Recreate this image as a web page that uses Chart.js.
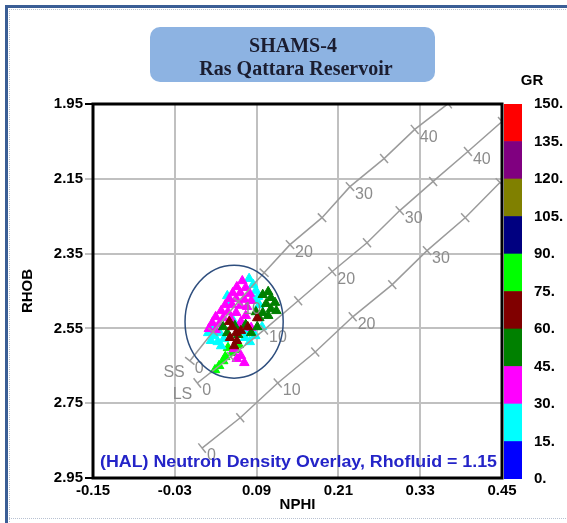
<!DOCTYPE html>
<html>
<head>
<meta charset="utf-8">
<title>SHAMS-4 Neutron Density Crossplot</title>
<script src="https://cdn.jsdelivr.net/npm/chart.js@4.4.1/dist/chart.umd.min.js"></script>
<style>
  html, body { margin: 0; padding: 0; background: #fff; }
  #wrap { position: relative; width: 567px; height: 523px; overflow: hidden; }
  #plot { position: absolute; left: 0; top: 0; }
  #grbar { position: absolute; left: 504px; top: 0; }
</style>
</head>
<body>
<div id="wrap">
  <canvas id="plot" width="567" height="523"></canvas>
  <canvas id="grbar" width="63" height="523"></canvas>
</div>
<script>
// ---- axis ticks ----
const xTickLabels = ["-0.15", "-0.03", "0.09", "0.21", "0.33", "0.45"];
const yTickLabels = ["1.95", "2.15", "2.35", "2.55", "2.75", "2.95"];

// ---- overlay lines (porosity ticks every 5 p.u.) ----
const porosity = [0, 5, 10, 15, 20, 25, 30, 35, 40, 45];
const ssNphi  = [-0.008, 0.026, 0.063, 0.101, 0.139, 0.186, 0.227, 0.277, 0.322, 0.371];
const ssRhob  = [2.637, 2.559, 2.479, 2.401, 2.326, 2.254, 2.171, 2.096, 2.018, 1.949];
const lsNphi  = [0.003, 0.052, 0.101, 0.151, 0.201, 0.252, 0.300, 0.349, 0.400, 0.450];
const lsRhob  = [2.696, 2.626, 2.554, 2.476, 2.398, 2.321, 2.235, 2.157, 2.077, 1.997];
const dolNphi = [0.010, 0.066, 0.121, 0.176, 0.231, 0.289, 0.340, 0.396, 0.447];
const dolRhob = [2.870, 2.789, 2.696, 2.613, 2.519, 2.433, 2.342, 2.254, 2.160];

// ---- log samples [NPHI, RHOB] by GR class ----
const gr15to30 = [[0.079,2.417],[0.085,2.433],[0.089,2.449],[0.092,2.465],[0.086,2.473],[0.094,2.487],
  [0.047,2.463],[0.051,2.481],[0.026,2.546],[0.019,2.562],[0.028,2.570],[0.036,2.562],[0.023,2.583],
  [0.033,2.586],[0.042,2.578],[0.038,2.597],[0.073,2.575],[0.080,2.586],[0.088,2.570],[0.076,2.559],
  [0.098,2.546],[0.055,2.527]];
const gr30to45 = [[0.069,2.423],[0.061,2.439],[0.074,2.441],[0.055,2.455],[0.066,2.455],[0.080,2.457],
  [0.050,2.471],[0.060,2.471],[0.072,2.473],[0.082,2.476],[0.044,2.487],[0.054,2.487],[0.066,2.489],
  [0.076,2.492],[0.038,2.503],[0.048,2.506],[0.060,2.508],[0.030,2.519],[0.041,2.522],[0.052,2.524],
  [0.025,2.535],[0.035,2.538],[0.067,2.532],[0.074,2.516],[0.020,2.551],[0.030,2.554],[0.064,2.551],
  [0.082,2.548],[0.057,2.605],[0.067,2.623],[0.072,2.642],[0.061,2.631]];
const gr45to60 = [[0.099,2.460],[0.107,2.452],[0.111,2.468],[0.117,2.481],[0.104,2.484],[0.111,2.498],
  [0.119,2.503],[0.099,2.508],[0.094,2.522],[0.089,2.506],[0.091,2.546],[0.041,2.546],[0.047,2.562],
  [0.063,2.567],[0.058,2.543],[0.082,2.562],[0.074,2.540],[0.107,2.516]];
const gr60to75 = [[0.054,2.546],[0.060,2.562],[0.051,2.575],[0.061,2.583],[0.057,2.597],[0.091,2.522],
  [0.077,2.546],[0.067,2.556],[0.050,2.532]];
const gr75to90 = [[0.048,2.602],[0.054,2.615],[0.060,2.607],[0.041,2.637],[0.035,2.650],[0.029,2.661],
  [0.044,2.626],[0.064,2.594]];

// ---- GR colour scale ----
const grBands = [[0,15],[15,30],[30,45],[45,60],[60,75],[75,90],[90,105],[105,120],[120,135],[135,150]];
const grColors = ["#0000ff", "#00ffff", "#ff00ff", "#008000", "#800000",
                  "#00ff00", "#000080", "#808000", "#800080", "#ff0000"];
const grTickLabels = ["0.", "15.", "30.", "45.", "60.", "75.", "90.", "105.", "120.", "135.", "150."];

// cluster outline (centre and half-axes in data units)
const clusterCenter = [0.057, 2.532];
const clusterRadius = [0.072, 0.151];

Chart.defaults.font.family = '"Liberation Sans", Arial, sans-serif';

const toPoints = (xs, ys) => xs.map((v, i) => ({ x: v, y: ys[i] }));
const overlays = [
  { name: "SS", pts: toPoints(ssNphi, ssRhob) },
  { name: "LS", pts: toPoints(lsNphi, lsRhob) },
  { name: "",   pts: toPoints(dolNphi, dolRhob) }
];

// pick the label whose number matches the tick value (works with reversed axes)
const labelFor = list => v => list.find(l => Math.abs(parseFloat(l) - v) < 1e-6) || "";

// porosity tick drawn perpendicular to the line, in pixel space
function tickAngle(ctx) {
  const chart = ctx.chart, pts = ctx.dataset.data, i = ctx.dataIndex;
  const sx = chart.scales.x, sy = chart.scales.y;
  const a = pts[Math.max(i - 1, 0)], b = pts[Math.min(i + 1, pts.length - 1)];
  const dx = sx.getPixelForValue(b.x) - sx.getPixelForValue(a.x);
  const dy = sy.getPixelForValue(b.y) - sy.getPixelForValue(a.y);
  return Math.atan2(dy, dx) * 180 / Math.PI + 90;
}

const lineSets = overlays.map(o => ({
  data: o.pts,
  showLine: true,
  borderColor: "#9b9b9b",
  borderWidth: 1.5,
  pointStyle: "line",
  pointRadius: 6,
  pointBorderColor: "#9b9b9b",
  pointBorderWidth: 1.5,
  pointRotation: tickAngle,
  order: 0
}));

const samples = [
  [gr60to75, grColors[4], 1],
  [gr45to60, grColors[3], 2],
  [gr30to45, grColors[2], 3],
  [gr15to30, grColors[1], 4],
  [gr75to90, grColors[5], 5]
].map(([pts, color, order]) => ({
  data: pts.map(p => ({ x: p[0], y: p[1] })),
  pointStyle: "triangle",
  pointRadius: 5.5,
  backgroundColor: color,
  borderColor: color,
  borderWidth: 1,
  order: order
}));

const framePlugin = {
  id: "frame",
  beforeDraw(chart) {
    const ctx = chart.ctx;
    ctx.save();
    ctx.fillStyle = "#ffffff";
    ctx.fillRect(0, 0, chart.width, chart.height);
    ctx.fillStyle = "#3b5e96";
    ctx.fillRect(5, 5, 3, chart.height - 5);
    ctx.fillRect(5, 5, chart.width - 5, 3);
    ctx.strokeStyle = "#b8c2d2";
    ctx.lineWidth = 1;
    ctx.setLineDash([1, 1]);
    ctx.beginPath();
    ctx.moveTo(9.5, 9); ctx.lineTo(9.5, chart.height);
    ctx.moveTo(9, 9.5); ctx.lineTo(chart.width, 9.5);
    ctx.moveTo(9, 518.5); ctx.lineTo(chart.width, 518.5);
    ctx.stroke();
    ctx.setLineDash([]);

    // title box
    ctx.fillStyle = "#8db3e2";
    ctx.beginPath();
    ctx.roundRect(150, 27, 285, 55, 10);
    ctx.fill();
    ctx.fillStyle = "#1b1d30";
    ctx.font = 'bold 20px "Liberation Serif", "Times New Roman", serif';
    ctx.textAlign = "center";
    ctx.textBaseline = "middle";
    ctx.fillText("SHAMS-4", 293, 47);
    ctx.fillText("Ras Qattara Reservoir", 296, 70);
    ctx.restore();
  },
  afterDatasetsDraw(chart) {
    const { ctx, chartArea: ca, scales: { x, y } } = chart;
    ctx.save();
    ctx.beginPath();
    ctx.rect(ca.left, ca.top, ca.right - ca.left, ca.bottom - ca.top);
    ctx.clip();

    // porosity labels
    ctx.fillStyle = "#8c8c8c";
    ctx.font = '16px "Liberation Sans", Arial, sans-serif';
    ctx.textBaseline = "middle";
    overlays.forEach(o => {
      o.pts.forEach((p, i) => {
        if (porosity[i] % 10 !== 0) return;
        const px = x.getPixelForValue(p.x), py = y.getPixelForValue(p.y);
        ctx.textAlign = "left";
        ctx.fillText(String(porosity[i]), px + 5, py + 8);
        if (i === 0 && o.name) {
          ctx.textAlign = "right";
          ctx.fillText(o.name, px - 5, py + 12);
        }
      });
    });

    // cluster outline
    const cx = x.getPixelForValue(clusterCenter[0]);
    const cy = y.getPixelForValue(clusterCenter[1]);
    const rx = Math.abs(x.getPixelForValue(clusterCenter[0] + clusterRadius[0]) - cx);
    const ry = Math.abs(y.getPixelForValue(clusterCenter[1] + clusterRadius[1]) - cy);
    ctx.strokeStyle = "#2e4e7e";
    ctx.lineWidth = 1.5;
    ctx.beginPath();
    ctx.ellipse(cx, cy, rx, ry, 0, 0, Math.PI * 2);
    ctx.stroke();
    ctx.restore();

    // plot caption, stretched to span the plot like the original
    const caption = "(HAL) Neutron Density Overlay, Rhofluid = 1.15";
    ctx.save();
    ctx.fillStyle = "#2424c8";
    ctx.font = 'bold 16px "Liberation Sans", Arial, sans-serif';
    ctx.textAlign = "left";
    ctx.textBaseline = "middle";
    const left = ca.left + 7;
    const sx = (ca.right - 5 - left) / ctx.measureText(caption).width;
    ctx.translate(left, ca.bottom - 15);
    ctx.scale(sx, 1);
    ctx.fillText(caption, 0, 0);
    ctx.restore();

    // plot border
    ctx.save();
    ctx.strokeStyle = "#000000";
    ctx.lineWidth = 3;
    ctx.strokeRect(ca.left, ca.top, ca.right - ca.left, ca.bottom - ca.top);
    ctx.restore();
  }
};

new Chart(document.getElementById("plot"), {
  type: "scatter",
  data: { datasets: [...lineSets, ...samples] },
  options: {
    responsive: false,
    animation: false,
    layout: { padding: { top: 104, right: 65, bottom: 0, left: 0 } },
    plugins: { legend: { display: false }, tooltip: { enabled: false } },
    scales: {
      x: {
        type: "linear",
        min: -0.15, max: 0.45,
        ticks: {
          stepSize: 0.12,
          padding: 4,
          color: "#000",
          font: { size: 15, weight: "bold" },
          callback: labelFor(xTickLabels)
        },
        grid: { color: "#c0c0c0", lineWidth: 2, drawTicks: false },
        border: { display: false },
        title: {
          display: true, text: "NPHI", color: "#000",
          font: { size: 15, weight: "bold" },
          padding: { top: 0, bottom: 9 }
        },
        afterFit: s => { s.height = 45; }
      },
      y: {
        type: "linear",
        reverse: true,
        min: 1.95, max: 2.95,
        ticks: {
          stepSize: 0.2,
          padding: 2,
          color: "#000",
          font: { size: 15, weight: "bold" },
          callback: labelFor(yTickLabels)
        },
        grid: {
          color: "#c0c0c0", lineWidth: 2, tickLength: 8,
          tickColor: c => (c.index === 0 || c.index === yTickLabels.length - 1) ? "#000" : "#c0c0c0"
        },
        border: { display: false },
        title: {
          display: true, text: "RHOB", color: "#000",
          font: { size: 15, weight: "bold" },
          padding: { top: 19, bottom: 0 }
        },
        afterFit: s => { s.width = 93; }
      }
    }
  },
  plugins: [framePlugin]
});

// ---- GR colour bar ----
const grLabelPlugin = {
  id: "grLabel",
  afterDraw(chart) {
    const ctx = chart.ctx;
    ctx.save();
    ctx.fillStyle = "#000";
    ctx.font = 'bold 15px "Liberation Sans", Arial, sans-serif';
    ctx.textAlign = "center";
    ctx.textBaseline = "middle";
    ctx.fillText("GR", 28, 81);
    ctx.restore();
  }
};

new Chart(document.getElementById("grbar"), {
  type: "bar",
  data: {
    labels: ["GR"],
    datasets: grBands.map((b, i) => ({
      data: [b],
      backgroundColor: grColors[i],
      borderWidth: 0,
      barPercentage: 1,
      categoryPercentage: 1,
      grouped: false
    }))
  },
  options: {
    responsive: false,
    animation: false,
    layout: { padding: { top: 104, bottom: 44, left: 0, right: 0 } },
    plugins: { legend: { display: false }, tooltip: { enabled: false } },
    scales: {
      x: { display: false },
      y: {
        position: "right",
        min: 0, max: 150,
        ticks: {
          stepSize: 15,
          padding: 4,
          color: "#000",
          font: { size: 15, weight: "bold" },
          callback: labelFor(grTickLabels)
        },
        grid: { display: false },
        border: { display: false },
        afterFit: s => { s.width = 45; }
      }
    }
  },
  plugins: [grLabelPlugin]
});
</script>
</body>
</html>
